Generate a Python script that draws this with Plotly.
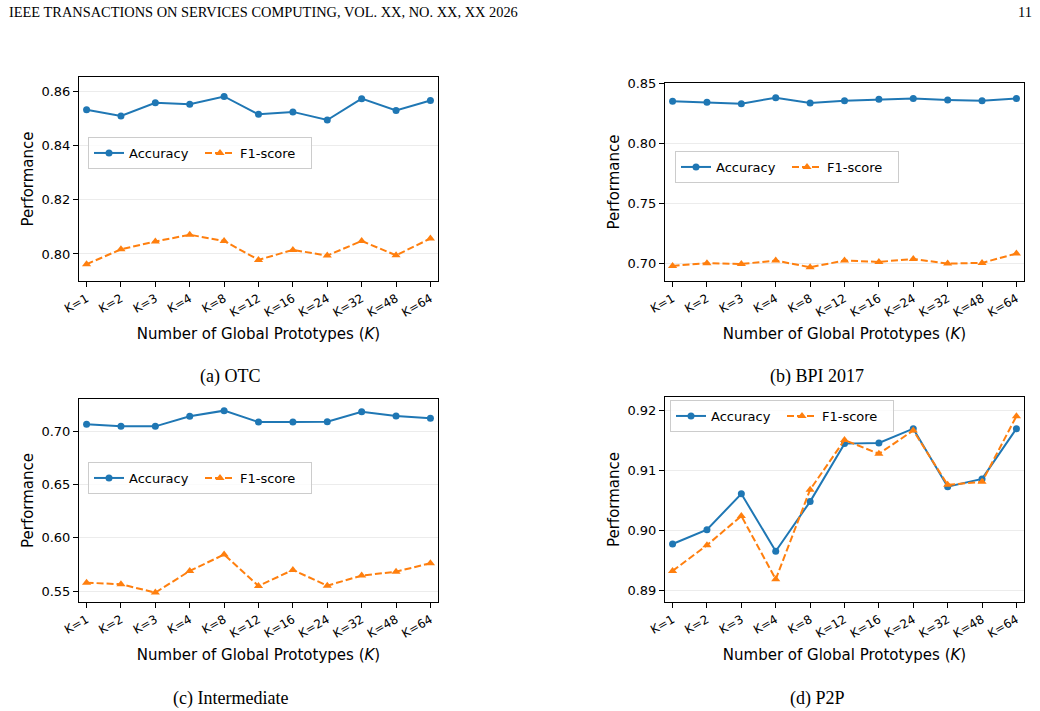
import plotly.graph_objects as go

# ---------------- data ----------------
K_LABELS = ["K=1", "K=2", "K=3", "K=4", "K=8", "K=12", "K=16", "K=24", "K=32", "K=48", "K=64"]

OTC_ACC = [0.8533, 0.8510, 0.8559, 0.8553, 0.8582, 0.8516, 0.8525, 0.8495, 0.8574, 0.8530, 0.8567]
OTC_F1 = [0.7962, 0.8017, 0.8046, 0.8071, 0.8048, 0.7978, 0.8015, 0.7994, 0.8048, 0.7995, 0.8057]

BPI_ACC = [0.8350, 0.8341, 0.8330, 0.8380, 0.8336, 0.8355, 0.8366, 0.8372, 0.8361, 0.8355, 0.8372]
BPI_F1 = [0.6978, 0.7000, 0.6994, 0.7022, 0.6967, 0.7022, 0.7011, 0.7036, 0.6997, 0.7003, 0.7081]

INT_ACC = [0.7063, 0.7044, 0.7044, 0.7138, 0.7191, 0.7084, 0.7084, 0.7088, 0.7181, 0.7141, 0.7119]
INT_F1 = [0.5581, 0.5566, 0.5488, 0.5691, 0.5844, 0.5550, 0.5700, 0.5553, 0.5647, 0.5684, 0.5763]

P2P_ACC = [0.8977, 0.9001, 0.9061, 0.8965, 0.9048, 0.9145, 0.9146, 0.9170, 0.9073, 0.9086, 0.9170]
P2P_F1 = [0.8932, 0.8975, 0.9024, 0.8918, 0.9068, 0.9151, 0.9128, 0.9167, 0.9076, 0.9081, 0.9191]

SERIES_NAMES = ["Accuracy", "F1-score"]
CAPTIONS = ["(a) OTC", "(b) BPI 2017", "(c) Intermediate", "(d) P2P"]
X_TITLE = "Number of Global Prototypes (<i>K</i>)"
Y_TITLE = "Performance"
HEADER = "IEEE TRANSACTIONS ON SERVICES COMPUTING, VOL. XX, NO. XX, XX 2026"
PAGE_NO = "11"

# ---------------- layout helpers ----------------
W, H = 1040, 711
BLUE, ORANGE = "#1f77b4", "#ff7f0e"
SANS = "DejaVu Sans"
SERIF = "Liberation Serif, Times New Roman, serif"


def fx(p):
    return p / W


def fy(p):
    return 1 - p / H


panels = [
    dict(acc=OTC_ACC, f1=OTC_F1, xd=(79, 438), yd=(77, 281), yr=(0.7900, 0.8654), dt=0.02,
         leg=(88, 137), cap=(230, 376)),
    dict(acc=BPI_ACC, f1=BPI_F1, xd=(665, 1024), yd=(83, 281), yr=(0.6852, 0.8502), dt=0.05,
         leg=(675, 151), cap=(817, 376)),
    dict(acc=INT_ACC, f1=INT_F1, xd=(79, 438), yd=(399, 602), yr=(0.5400, 0.7300), dt=0.05,
         leg=(88, 462), cap=(230, 698)),
    dict(acc=P2P_ACC, f1=P2P_F1, xd=(665, 1024), yd=(397, 602), yr=(0.8880, 0.9223), dt=0.01,
         leg=(670, 400), cap=(817, 698)),
]

fig = go.Figure()
layout = dict(
    width=W, height=H,
    margin=dict(l=0, r=0, t=0, b=0, autoexpand=False),
    paper_bgcolor="white", plot_bgcolor="white",
    font=dict(family=SANS, size=13, color="black"),
    showlegend=True,
)
annotations = []

for i, p in enumerate(panels):
    n = "" if i == 0 else str(i + 1)
    xa, ya = "x" + n, "y" + n
    leg = "legend" + n
    fig.add_trace(go.Scatter(
        x=K_LABELS, y=p["acc"], name=SERIES_NAMES[0], xaxis=xa, yaxis=ya, legend=leg,
        mode="lines+markers", line=dict(color=BLUE, width=2),
        marker=dict(symbol="circle", size=7, color=BLUE)))
    fig.add_trace(go.Scatter(
        x=K_LABELS, y=p["f1"], name=SERIES_NAMES[1], xaxis=xa, yaxis=ya, legend=leg,
        mode="lines+markers", line=dict(color=ORANGE, width=2, dash="7px,3px"),
        marker=dict(symbol="triangle-up", size=8, color=ORANGE)))

    layout["xaxis" + n] = dict(
        domain=[fx(p["xd"][0]), fx(p["xd"][1])], anchor=ya, automargin=False,
        type="category", range=[-0.22, 10.22],
        showline=True, linecolor="black", linewidth=1, mirror=True,
        ticks="outside", ticklen=5, tickwidth=1, tickcolor="black",
        tickangle=-30, tickfont=dict(size=12), showgrid=False, zeroline=False,
        title=dict(text=X_TITLE, font=dict(size=15), standoff=9),
    )
    layout["yaxis" + n] = dict(
        domain=[fy(p["yd"][1]), fy(p["yd"][0])], anchor=xa, automargin=False,
        range=list(p["yr"]), tick0=0, dtick=p["dt"], tickformat=".2f",
        showline=True, linecolor="black", linewidth=1, mirror=True,
        ticks="outside", ticklen=5, tickwidth=1, tickcolor="black",
        tickfont=dict(size=13), showgrid=True, gridcolor="#ececec", gridwidth=1,
        zeroline=False,
        title=dict(text=Y_TITLE, font=dict(size=15), standoff=4),
    )
    layout[leg] = dict(
        x=fx(p["leg"][0]), y=fy(p["leg"][1]), xanchor="left", yanchor="top",
        orientation="h", bgcolor="rgba(255,255,255,0.8)", bordercolor="#cccccc",
        borderwidth=1, font=dict(size=13), itemwidth=30,
        entrywidth=66, entrywidthmode="pixels",
    )
    annotations.append(dict(
        text=CAPTIONS[i], x=fx(p["cap"][0]), y=fy(p["cap"][1]), xref="paper", yref="paper",
        xanchor="center", yanchor="middle", showarrow=False,
        font=dict(family=SERIF, size=18, color="black")))

annotations.append(dict(
    text=HEADER, x=fx(7), y=fy(12), xref="paper", yref="paper", xanchor="left",
    yanchor="middle", showarrow=False, font=dict(family=SERIF, size=14.4, color="black")))
annotations.append(dict(
    text=PAGE_NO, x=fx(1034), y=fy(12), xref="paper", yref="paper", xanchor="right",
    yanchor="middle", showarrow=False, font=dict(family=SERIF, size=14.4, color="black")))

layout["annotations"] = annotations
fig.update_layout(**layout)
fig.write_html("out.html")
